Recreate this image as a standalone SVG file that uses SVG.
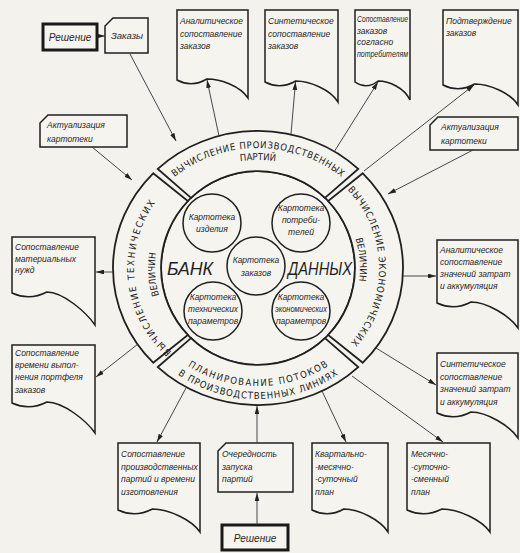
<svg xmlns="http://www.w3.org/2000/svg" width="520" height="553" viewBox="0 0 520 553">
<style>
.s{fill:#f6f4ef;stroke:#1f1f1f;stroke-width:1.5}
.k{fill:#f6f4ef;stroke:#1a1a1a;stroke-width:3}
.r{fill:#f6f4ef;stroke:#1f1f1f;stroke-width:1.8}
.t{font-family:"Liberation Sans",Arial,sans-serif;font-style:italic;font-size:8.5px;fill:#262626}
.m{text-anchor:middle}
.g{font-family:"DejaVu Sans Condensed","Liberation Sans",sans-serif;font-size:9.5px;fill:#222}
.big{font-family:"Liberation Sans",Arial,sans-serif;font-style:italic;font-size:19px;fill:#1f1f1f}
.con line{stroke:#333;stroke-width:0.9;marker-end:url(#ah)}
</style>
<defs>
<marker id="ah" viewBox="0 0 10 6" refX="10" refY="3" markerWidth="8" markerHeight="4.8" orient="auto" markerUnits="userSpaceOnUse"><path d="M0,0 L10,3 L0,6 z" fill="#222"/></marker>
<path id="tp1" d="M147.2,208 A128,120 0 0 1 368.8,208"/>
<path id="tp2" d="M157.5,214 A116,108 0 0 1 358.5,214"/>
<path id="rp1" d="M318.5,167.5 A121,116 0 0 1 318.5,368.5"/>
<path id="rp2" d="M309,182.3 A102,99 0 0 1 309,353.7"/>
<path id="lp1" d="M196,369.3 A124,117 0 0 1 196,166.7"/>
<path id="lp2" d="M206.5,354.6 A103,100 0 0 1 206.5,181.4"/>
<path id="bp1" d="M164.4,347 A126,118 0 0 0 351.6,347"/>
<path id="bp2" d="M155.5,355.7 A138,131 0 0 0 360.5,355.7"/>
</defs>
<rect x="0" y="0" width="520" height="553" fill="#f4f2ed"/>

<g id="bank">
<circle class="r" cx="258" cy="268" r="97"/>
<text class="big" x="167" y="275" textLength="46" lengthAdjust="spacingAndGlyphs">БАНК</text>
<text class="big" x="288" y="275" textLength="64" lengthAdjust="spacingAndGlyphs">ДАННЫХ</text>
</g>

<g id="seg-top">
<path class="r" d="M157.8,168.9 A145,137 0 0 1 358.2,168.9 L325,197.9 A97,97 0 0 0 191,197.9 Z"/>
<text class="g"><textPath href="#tp1" startOffset="50%" text-anchor="middle" textLength="180" lengthAdjust="spacing">ВЫЧИСЛЕНИЕ ПРОИЗВОДСТВЕННЫХ</textPath></text>
<text class="g"><textPath href="#tp2" startOffset="50%" text-anchor="middle">ПАРТИЙ</textPath></text>
</g>
<g id="seg-right">
<path class="r" d="M362.8,173.3 A145,137 0 0 1 362.8,362.7 L328.1,335 A97,97 0 0 0 328.1,201 Z"/>
<text class="g"><textPath href="#rp1" startOffset="49%" text-anchor="middle" textLength="168" lengthAdjust="spacing">ВЫЧИСЛЕНИЕ ЭКОНОМИЧЕСКИХ</textPath></text>
<text class="g"><textPath href="#rp2" startOffset="46%" text-anchor="middle">ВЕЛИЧИН</textPath></text>
</g>
<g id="seg-bottom">
<path class="r" d="M358.2,367.1 A145,137 0 0 1 157.8,367.1 L191,338.1 A97,97 0 0 0 325,338.1 Z"/>
<text class="g"><textPath href="#bp1" startOffset="50%" text-anchor="middle" textLength="148" lengthAdjust="spacing">ПЛАНИРОВАНИЕ ПОТОКОВ</textPath></text>
<text class="g"><textPath href="#bp2" startOffset="50%" text-anchor="middle" textLength="170" lengthAdjust="spacing">В ПРОИЗВОДСТВЕННЫХ ЛИНИЯХ</textPath></text>
</g>
<g id="seg-left">
<path class="r" d="M153.2,362.7 A145,137 0 0 1 153.2,173.3 L187.9,201 A97,97 0 0 0 187.9,335 Z"/>
<text class="g"><textPath href="#lp1" startOffset="45%" text-anchor="middle" textLength="164" lengthAdjust="spacing">ВЫЧИСЛЕНИЕ ТЕХНИЧЕСКИХ</textPath></text>
<text class="g"><textPath href="#lp2" startOffset="47%" text-anchor="middle">ВЕЛИЧИН</textPath></text>
</g>

<g id="c-izdelia">
<circle class="s" cx="212" cy="223" r="29"/>
<text class="t m" x="212" y="220">Картотека</text>
<text class="t m" x="212" y="232">изделия</text>
</g>
<g id="c-potrebiteli">
<circle class="s" cx="301" cy="223" r="29"/>
<text class="t m" x="301" y="211">Картотека</text>
<text class="t m" x="301" y="223">потреби-</text>
<text class="t m" x="301" y="235">телей</text>
</g>
<g id="c-zakazy">
<circle class="s" cx="256" cy="266" r="29"/>
<text class="t m" x="256" y="263">Картотека</text>
<text class="t m" x="256" y="276">заказов</text>
</g>
<g id="c-tehn">
<circle class="s" cx="213" cy="311" r="29"/>
<text class="t m" x="213" y="300">Картотека</text>
<text class="t m" x="213" y="312" textLength="50" lengthAdjust="spacingAndGlyphs">технических</text>
<text class="t m" x="213" y="324">параметров</text>
</g>
<g id="c-ekon">
<circle class="s" cx="301" cy="311" r="29"/>
<text class="t m" x="301" y="300">Картотека</text>
<text class="t m" x="301" y="312" textLength="52" lengthAdjust="spacingAndGlyphs">экономических</text>
<text class="t m" x="301" y="324">параметров</text>
</g>

<g id="reshenie-top">
<rect class="k" x="43" y="24" width="54" height="26"/>
<text class="t m" x="70" y="41" style="font-size:10px">Решение</text>
</g>
<g id="zakazy">
<path class="s" d="M113,18 H148 V53 H105 V26 Z"/>
<text class="t" x="111" y="39" style="font-size:9.5px">Заказы</text>
</g>
<g id="doc-analit-zak">
<path class="s" d="M177,10 H248 V98 C239.9,86 221,79 206.8,79 Q191.9,88 177,80 Z"/>
<text class="t" x="180" y="24">Аналитическое</text>
<text class="t" x="180" y="36.5">сопоставление</text>
<text class="t" x="180" y="49">заказов</text>
</g>
<g id="doc-sint-zak">
<path class="s" d="M265,10 H338 V102 C330.7,90 310.3,81 295.7,81 Q280.3,90 265,82 Z"/>
<text class="t" x="268" y="24">Синтетическое</text>
<text class="t" x="268" y="36.5">сопоставление</text>
<text class="t" x="268" y="49">заказов</text>
</g>
<g id="doc-sogl">
<path class="s" d="M355,10 H410 V100 C404.5,88 389.1,81 378.1,81 Q366.6,90 355,82 Z"/>
<text class="t" x="357" y="22" textLength="51" lengthAdjust="spacingAndGlyphs">Сопоставление</text>
<text class="t" x="357" y="33.5">заказов</text>
<text class="t" x="357" y="45">согласно</text>
<text class="t" x="357" y="56.5" textLength="51" lengthAdjust="spacingAndGlyphs">потребителям</text>
</g>
<g id="doc-podtv">
<path class="s" d="M443,10 H518 V105 C510.5,93 489.5,84 474.5,84 Q458.8,93 443,85 Z"/>
<text class="t" x="446" y="24">Подтверждение</text>
<text class="t" x="446" y="36">заказов</text>
</g>
<g id="akt-left">
<path class="s" d="M48,115 H127 V147 H40 V123 Z"/>
<text class="t" x="47" y="128">Актуализация</text>
<text class="t" x="47" y="142">картотеки</text>
</g>
<g id="akt-right">
<path class="s" d="M438,117 H518 V150 H430 V125 Z"/>
<text class="t" x="441" y="130">Актуализация</text>
<text class="t" x="441" y="144">картотеки</text>
</g>
<g id="doc-mat">
<path class="s" d="M12,237 H95 V325 C86.7,313 63.5,292 46.9,292 Q29.4,301 12,293 Z"/>
<text class="t" x="15" y="250">Сопоставление</text>
<text class="t" x="15" y="261.5">материальных</text>
<text class="t" x="15" y="273">нужд</text>
</g>
<g id="doc-vremeni">
<path class="s" d="M12,345 H95 V433 C86.7,421 63.5,402 46.9,402 Q29.4,411 12,403 Z"/>
<text class="t" x="15" y="356">Сопоставление</text>
<text class="t" x="15" y="368">времени выпол-</text>
<text class="t" x="15" y="380">нения портфеля</text>
<text class="t" x="15" y="393">заказов</text>
</g>
<g id="doc-analit-zatr">
<path class="s" d="M437,240 H518 V328 C509.9,316 487.2,302 471,302 Q454,311 437,303 Z"/>
<text class="t" x="440" y="253">Аналитическое</text>
<text class="t" x="440" y="265">сопоставление</text>
<text class="t" x="440" y="277">значений затрат</text>
<text class="t" x="440" y="289">и аккумуляция</text>
</g>
<g id="doc-sint-zatr">
<path class="s" d="M437,353 H518 V438 C509.9,426 487.2,412 471,412 Q454,421 437,413 Z"/>
<text class="t" x="440" y="367">Синтетическое</text>
<text class="t" x="440" y="379.5">сопоставление</text>
<text class="t" x="440" y="392">значений затрат</text>
<text class="t" x="440" y="404.5">и аккумуляция</text>
</g>
<g id="doc-partii">
<path class="s" d="M118,443 H200 V532 C191.8,520 168.8,509 152.4,509 Q135.2,518 118,510 Z"/>
<text class="t" x="121" y="457">Сопоставление</text>
<text class="t" x="121" y="469.5">производственных</text>
<text class="t" x="121" y="482">партий и времени</text>
<text class="t" x="121" y="494.5">изготовления</text>
</g>
<g id="ocherednost">
<path class="s" d="M226,443 H293 V492 H218 V451 Z"/>
<text class="t" x="222" y="457">Очередность</text>
<text class="t" x="222" y="469.5">запуска</text>
<text class="t" x="222" y="482">партий</text>
</g>
<g id="reshenie-bottom">
<rect class="k" x="222" y="525" width="66" height="25"/>
<text class="t m" x="255" y="542" style="font-size:10px">Решение</text>
</g>
<g id="doc-kvart">
<path class="s" d="M312,443 H388 V532 C380.4,520 359.1,509 343.9,509 Q328,518 312,510 Z"/>
<text class="t" x="315" y="457">Квартально-</text>
<text class="t" x="315" y="469.5">-месячно-</text>
<text class="t" x="315" y="482">-суточный</text>
<text class="t" x="315" y="494.5">план</text>
</g>
<g id="doc-mes">
<path class="s" d="M407,443 H490 V532 C481.7,520 458.5,509 441.9,509 Q424.4,518 407,510 Z"/>
<text class="t" x="411" y="457">Месячно-</text>
<text class="t" x="411" y="469.5">-суточно-</text>
<text class="t" x="411" y="482">-сменный</text>
<text class="t" x="411" y="494.5">план</text>
</g>

<g class="con" id="connectors">
<line x1="97" y1="36" x2="105" y2="36"/>
<line x1="130" y1="54" x2="176" y2="141"/>
<line x1="219" y1="136" x2="207" y2="80"/>
<line x1="291" y1="134" x2="295.5" y2="82"/>
<line x1="334" y1="152" x2="378" y2="82"/>
<line x1="364" y1="171" x2="474" y2="85"/>
<line x1="473" y1="150" x2="388" y2="194"/>
<line x1="92" y1="147" x2="132" y2="180"/>
<line x1="113" y1="272" x2="96" y2="272"/>
<line x1="138" y1="344" x2="96" y2="377"/>
<line x1="403" y1="276" x2="436" y2="276"/>
<line x1="376" y1="348" x2="436" y2="385"/>
<line x1="186" y1="388" x2="157" y2="442"/>
<line x1="257" y1="443" x2="257" y2="406"/>
<line x1="257" y1="525" x2="257" y2="493"/>
<line x1="322" y1="391" x2="346" y2="442"/>
<line x1="352" y1="376" x2="443" y2="442"/>
</g>
</svg>
